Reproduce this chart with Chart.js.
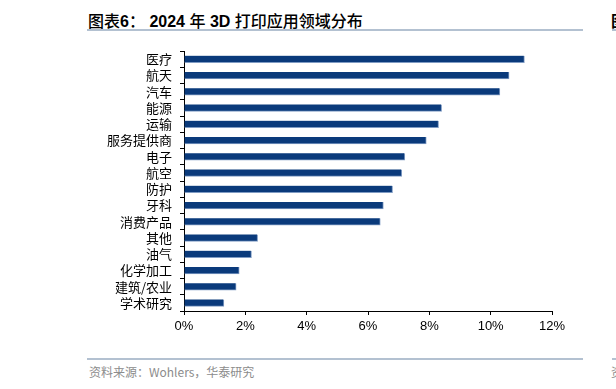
<!DOCTYPE html>
<html>
<head>
<meta charset="utf-8">
<script src="https://cdn.jsdelivr.net/npm/chart.js@4"></script>
<style>
html,body{margin:0;padding:0;background:#fff;}
body{width:616px;height:389px;position:relative;overflow:hidden;}
.title{position:absolute;left:88px;top:8px;font-family:"Liberation Sans","Noto Sans CJK SC",sans-serif;font-weight:bold;font-size:16px;color:#000;white-space:nowrap;}
.title .cn{font-family:"Noto Sans CJK SC",sans-serif;font-weight:500;}
.rule{position:absolute;height:2px;background:#b3c1d1;}
.source{position:absolute;left:89px;top:363px;font-family:"Noto Sans CJK SC","Liberation Sans",sans-serif;font-size:12px;color:#8c8c8c;white-space:nowrap;}
.frag{position:absolute;left:611px;white-space:nowrap;font-family:"Noto Sans CJK SC",sans-serif;}
#wrap{position:absolute;left:0;top:0;width:616px;height:389px;}
</style>
</head>
<body>
<div class="title"><span class="cn">图表</span>6<span class="cn">：</span> 2024 <span class="cn">年</span> 3D <span class="cn">打印应用领域分布</span></div>
<div class="rule" style="left:87px;top:29px;width:496px;"></div>
<div class="rule" style="left:87px;top:358px;width:496px;"></div>
<div class="source">资料来源：Wohlers，华泰研究</div>
<div class="frag" style="top:8px;font-size:16px;font-weight:bold;color:#000;">图</div>
<div class="rule" style="left:612px;top:29px;width:10px;"></div>
<div class="rule" style="left:612px;top:358px;width:10px;"></div>
<div class="frag" style="top:363px;font-size:12px;color:#8c8c8c;">资</div>
<div id="wrap"><canvas id="chart" width="616" height="389"></canvas></div>
<script>
const categories=["医疗","航天","汽车","能源","运输","服务提供商","电子","航空","防护","牙科","消费产品","其他","油气","化学加工","建筑/农业","学术研究"];
const shares=[11.1,10.6,10.3,8.4,8.3,7.9,7.2,7.1,6.8,6.5,6.4,2.4,2.2,1.8,1.7,1.3];
const xTicks=[0,2,4,6,8,10,12];

const ctx=document.getElementById("chart");

new Chart(ctx,{
type:"bar",
data:{
labels:categories,
datasets:[{
data:shares,
backgroundColor:"#0a3a7b",
borderColor:"#7f9bc3",
borderWidth:{top:0,left:0,right:1,bottom:1},
borderSkipped:false,
barThickness:7
}]
},
options:{
indexAxis:"y",
responsive:false,
animation:false,
devicePixelRatio:1,
layout:{padding:{top:51,right:64,bottom:48,left:0}},
plugins:{legend:{display:false},tooltip:{enabled:false}},
scales:{
x:{
min:0,max:12,
afterBuildTicks:s=>{s.ticks=xTicks.map(v=>({value:v}));},
afterFit:s=>{s.height=30;},
grid:{drawOnChartArea:false,drawTicks:true,tickLength:4,color:"#000"},
border:{display:true,color:"#000",width:1},
ticks:{padding:4,color:"#000",font:{family:"Liberation Sans",size:13},callback:v=>v+"%"}
},
y:{
afterFit:s=>{s.width=184;},
grid:{drawOnChartArea:false,drawTicks:true,tickLength:4,color:"#000",offset:true},
border:{display:true,color:"#000",width:1},
ticks:{padding:8,color:"#000",font:{family:"Noto Sans CJK SC",size:13},autoSkip:false}
}
}
}
});
</script>
</body>
</html>
